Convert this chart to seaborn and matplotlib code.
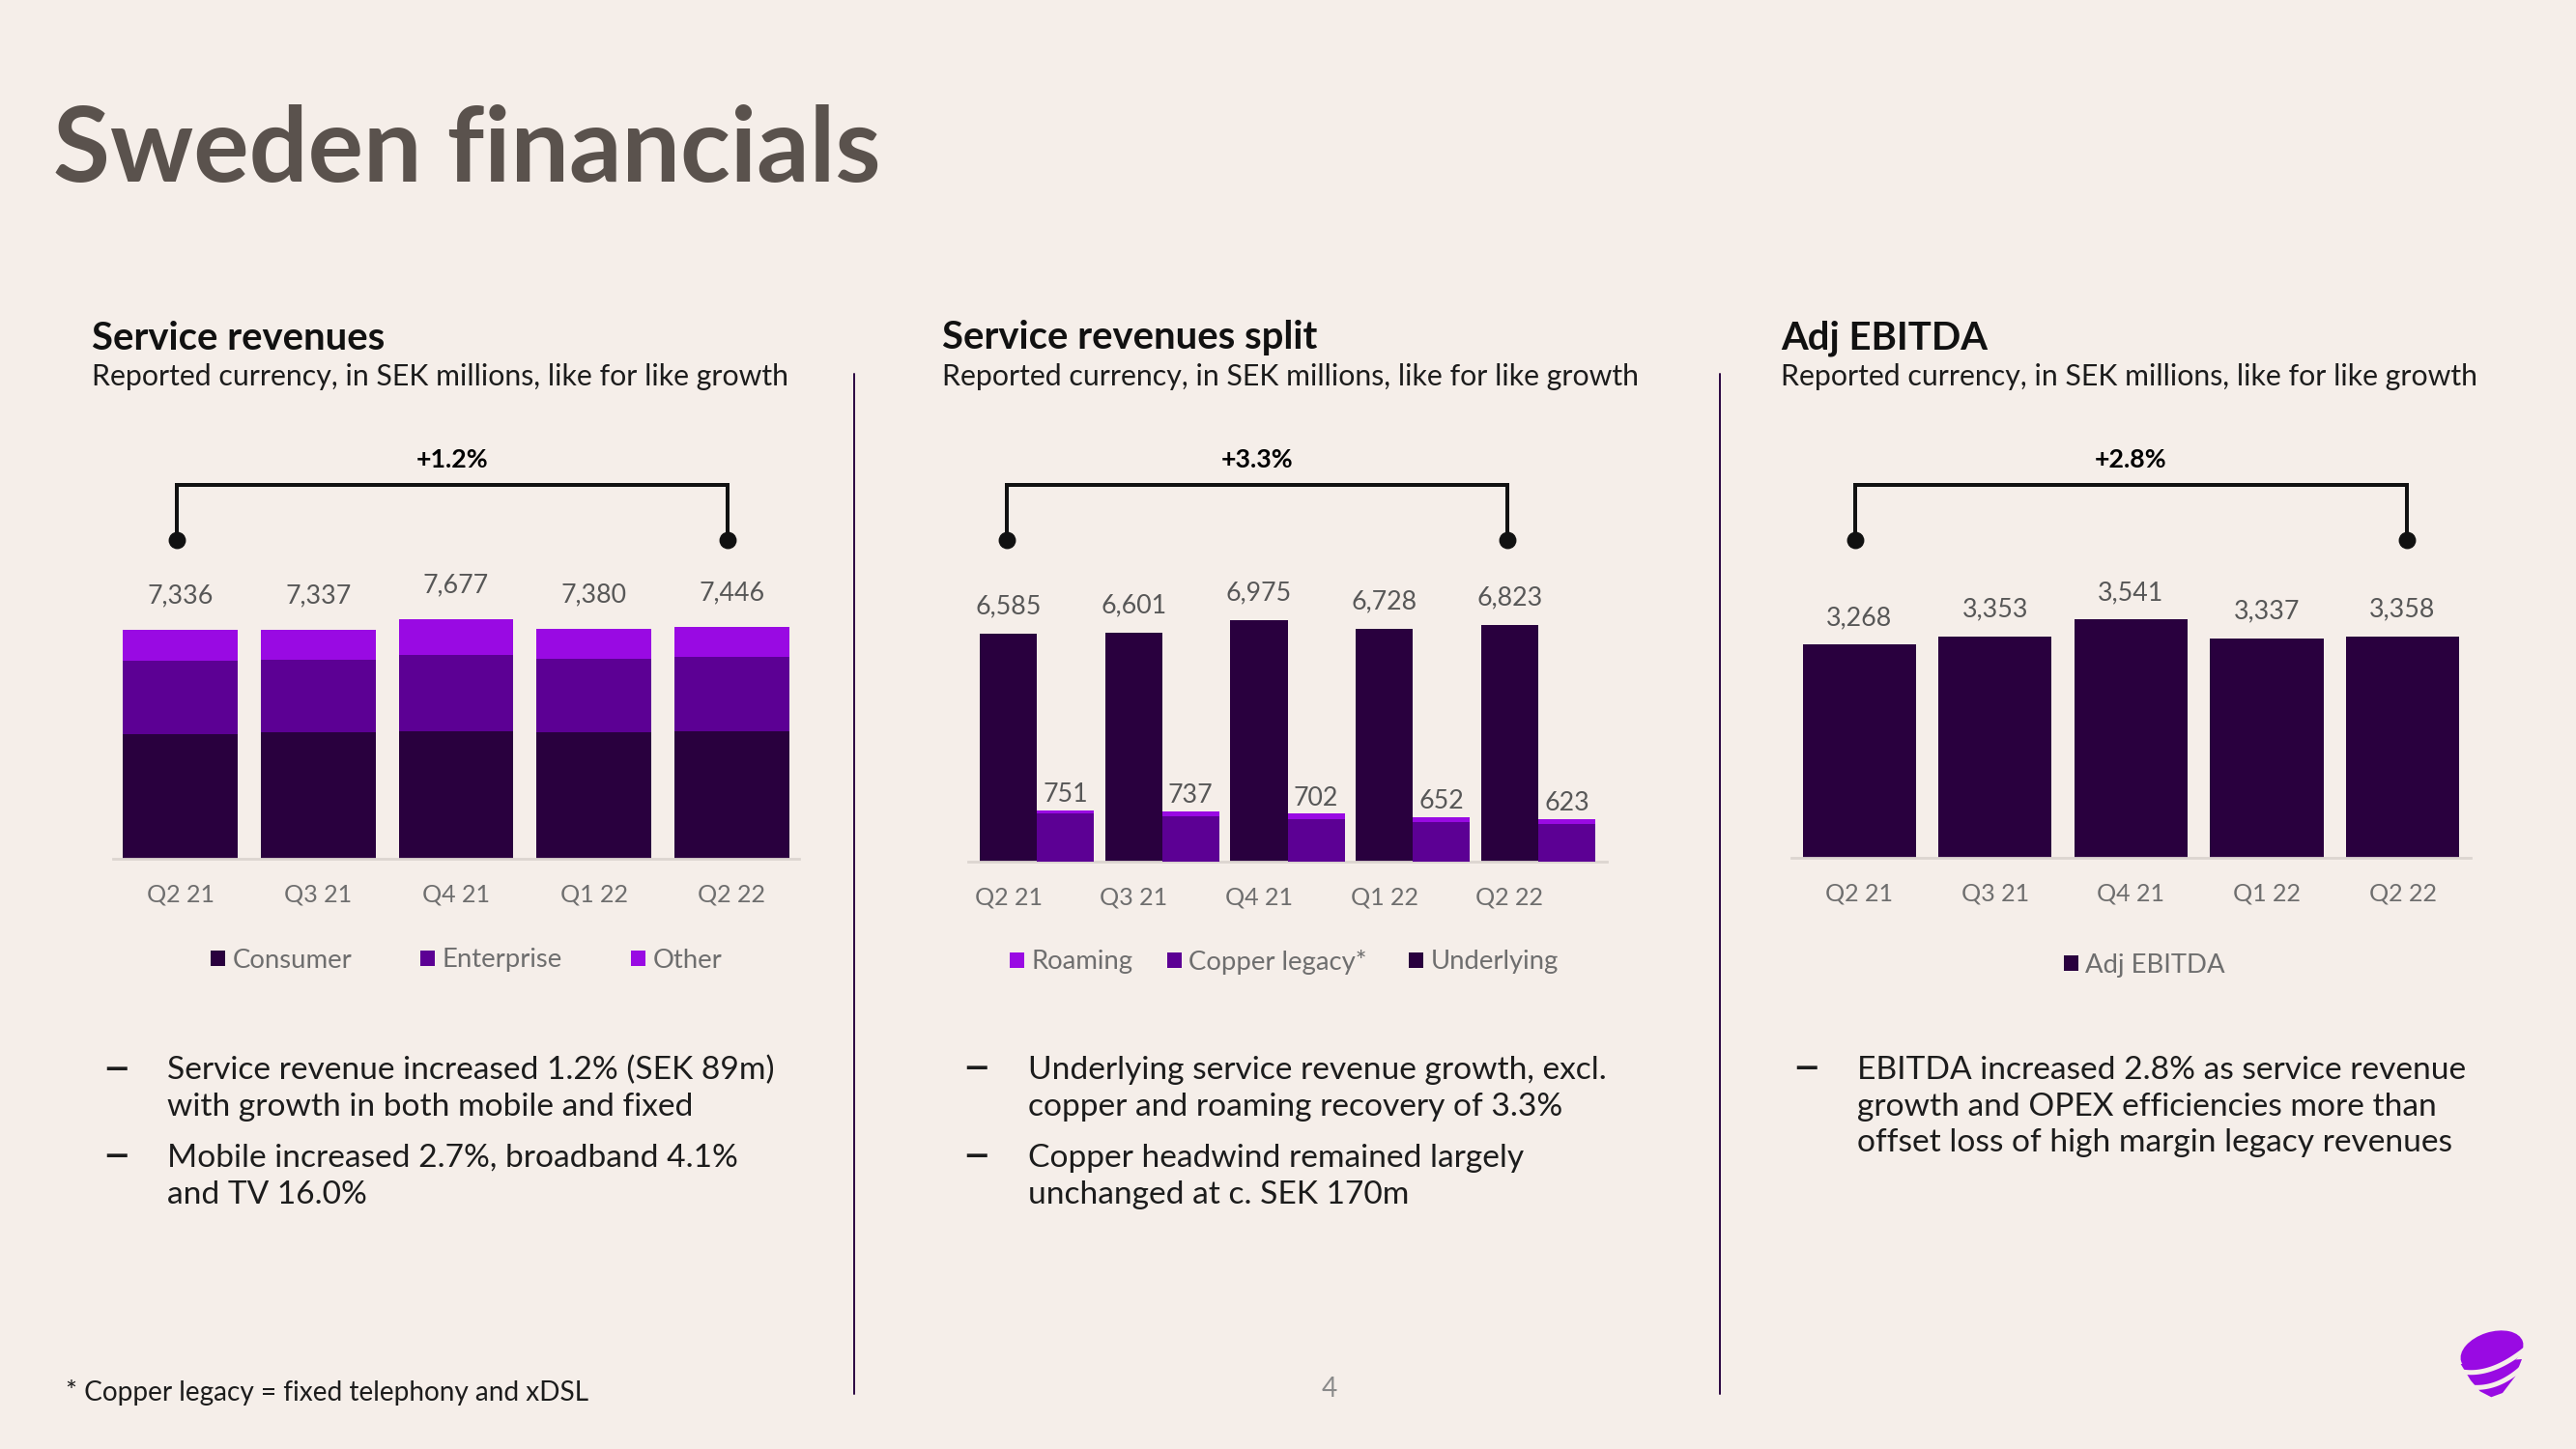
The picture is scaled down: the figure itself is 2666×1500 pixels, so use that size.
import numpy as np
import pandas as pd
import matplotlib
matplotlib.use("Agg")
import matplotlib.pyplot as plt
import matplotlib.transforms as mtransforms
from matplotlib.patches import Patch, Ellipse, Polygon
from matplotlib.textpath import TextPath
from matplotlib.font_manager import FontProperties
import seaborn as sns

# ------------------------------------------------------------------ data
quarters = ["Q2 21", "Q3 21", "Q4 21", "Q1 22", "Q2 22"]

sr_consumer = [3990, 4066, 4089, 4066, 4089]
sr_enterprise = [2371, 2316, 2460, 2350, 2383]
sr_other = [975, 955, 1128, 964, 974]

split_underlying = [6585, 6601, 6975, 6728, 6823]
split_copper = [706, 666, 626, 576, 547]
split_roaming = [45, 71, 76, 76, 76]

adj_ebitda = [3268, 3353, 3541, 3337, 3358]

growth_labels = ["+1.2%", "+3.3%", "+2.8%"]

legend1 = ["Consumer", "Enterprise", "Other"]
legend2 = ["Roaming", "Copper legacy*", "Underlying"]
legend3 = ["Adj EBITDA"]

headers = ["Service revenues", "Service revenues split", "Adj EBITDA"]
subheader = "Reported currency, in SEK millions, like for like growth"

bullets1 = [["Service revenue increased 1.2% (SEK 89m)", "with growth in both mobile and fixed"],
            ["Mobile increased 2.7%, broadband 4.1%", "and TV 16.0%"]]
bullets2 = [["Underlying service revenue growth, excl.", "copper and roaming recovery of 3.3%"],
            ["Copper headwind remained largely", "unchanged at c. SEK 170m"]]
bullets3 = [["EBITDA increased 2.8% as service revenue",
             "growth and OPEX efficiencies more than",
             "offset loss of high margin legacy revenues"]]

footnote = "* Copper legacy = fixed telephony and xDSL"
page_no = "4"
title = "Sweden financials"

# ------------------------------------------------------------------ style
BG = "#F5EEE9"
DEEP = "#29003E"
ENT = "#5C0094"
CORE = "#990AE3"
TITLE_C = "#5A524D"
VAL_C = "#575757"
TICK_C = "#6E6E6E"
TXT_C = "#1C1C1C"
AXIS_C = "#DCD5D0"
DIV_C = "#2E0A45"

sns.set_style("white")
plt.rcParams["font.family"] = ["Lato", "DejaVu Sans"]
FONT = ["Lato", "DejaVu Sans"]

W, H, DPI = 2666, 1500, 100
fig = plt.figure(figsize=(W / DPI, H / DPI), dpi=DPI)
fig.patch.set_facecolor(BG)
renderer = fig.canvas.get_renderer()
PT = 72.0 / DPI  # points per pixel


def fx(x):
    return x / W


def fy(y):
    return 1 - y / H


def add_ax(left, right, top, bottom):
    ax = fig.add_axes([fx(left), fy(bottom), (right - left) / W, (bottom - top) / H])
    ax.set_facecolor("none")
    return ax


def fit_size(s, target_w, weight="normal", base=20.0):
    t = fig.text(0, 0, s, fontsize=base, fontweight=weight, family=FONT)
    w = t.get_window_extent(renderer).width
    t.remove()
    return base * target_w / w


FS_TITLE = fit_size(title, 857, "bold")
FS_HEAD = fit_size(headers[0], 303, "bold")
FS_SUB = fit_size(subheader, 722)
FS_BUL = fit_size(bullets1[0][0], 628)
FS_VAL = fit_size("7,336", 68)
FS_TICK = fit_size("Q2 21", 70)
FS_LEG = fit_size("Consumer", 124)
FS_GROW = fit_size("+1.2%", 75, "bold")
FS_FOOT = fit_size(footnote, 543)

# dash glyph: fit its ink to ~21 px wide
DASH = "\u2013"
_tp = TextPath((0, 0), DASH, size=100, prop=FontProperties(family="Lato"))
_ext = _tp.get_extents()
DASH_PX = 100 * 21.0 / _ext.width
DASH_X0 = _ext.x0 * DASH_PX / 100
DASH_YC = (_ext.y0 + _ext.y1) / 2 * DASH_PX / 100


def ftext(x, y, s, **kw):
    kw.setdefault("va", "baseline")
    kw.setdefault("family", FONT)
    return fig.text(fx(x), fy(y), s, **kw)


def style_axis(ax):
    sns.despine(ax=ax, left=True, top=True, right=True)
    ax.spines["bottom"].set_color(AXIS_C)
    ax.spines["bottom"].set_linewidth(2.0)
    ax.set_yticks([])
    ax.set_ylabel("")
    ax.set_xlabel("")
    ax.tick_params(axis="x", length=0, pad=37 * PT, labelsize=FS_TICK, labelcolor=TICK_C)
    for lbl in ax.get_xticklabels():
        lbl.set_va("center")


def bracket(ax, x0, x1, bottom_px, height_px, label):
    trans = mtransforms.blended_transform_factory(ax.transData, ax.transAxes)
    yh = (bottom_px - 502) / height_px
    yd = (bottom_px - 559) / height_px
    yl = (bottom_px - 476) / height_px
    ax.plot([x0, x0, x1, x1], [yd, yh, yh, yd], transform=trans, color="#111111",
            lw=4 * PT, clip_on=False, solid_joinstyle="miter")
    ax.plot([x0, x1], [yd, yd], "o", ms=16.5 * PT, color="#111111", transform=trans, clip_on=False)
    ax.text((x0 + x1) / 2, yl, label, transform=trans, ha="center", va="center",
            fontsize=FS_GROW, fontweight="bold", color="black")


LEG_FS_PX = FS_LEG / PT


def legend_item(label, color, x_px, y_px):
    hl = 14.5 / LEG_FS_PX
    fig.legend(handles=[Patch(facecolor=color, edgecolor="none", label=label)],
               loc="center left", bbox_to_anchor=(fx(x_px), fy(y_px)), frameon=False,
               fontsize=FS_LEG, handlelength=hl, handleheight=hl,
               handletextpad=8.0 / LEG_FS_PX,
               borderpad=0, borderaxespad=0, labelcolor=TICK_C)


AX_H = 420.0

# ------------------------------------------------------------------ chart 1: stacked service revenues
df1 = pd.DataFrame({"quarter": quarters, "consumer": sr_consumer,
                    "enterprise": sr_enterprise, "other": sr_other})
df1["ce"] = df1["consumer"] + df1["enterprise"]
df1["total"] = df1["ce"] + df1["other"]

b1 = 888.6
ax1 = add_ax(117, 827, b1 - AX_H, b1)
for col, c in [("total", CORE), ("ce", ENT), ("consumer", DEEP)]:
    sns.barplot(data=df1, x="quarter", y=col, color=c, saturation=1, width=0.832,
                linewidth=0, ax=ax1, errorbar=None)
ax1.set_xlim(-0.487, 4.487)
ax1.set_ylim(0, AX_H / 0.032225)
style_axis(ax1)
for i, v in enumerate(df1["total"]):
    ax1.annotate(f"{v:,}", (i, v), xytext=(0, 35 * PT), textcoords="offset points",
                 ha="center", va="center", fontsize=FS_VAL, color=VAL_C)
bracket(ax1, -0.025, 3.97, b1, AX_H, growth_labels[0])

# ------------------------------------------------------------------ chart 2: split
df2 = pd.DataFrame({"quarter": quarters, "underlying": split_underlying,
                    "copper": split_copper, "roaming": split_roaming})
df2["legacy_total"] = df2["copper"] + df2["roaming"]
off = 0.2275
df2["pos_u"] = np.arange(len(quarters)) - off
df2["pos_l"] = np.arange(len(quarters)) + off

b2 = 892.0
ax2 = add_ax(1002, 1663, b2 - AX_H, b2)
ax2b = ax2.twinx()
sns.barplot(data=df2, x="pos_u", y="underlying", native_scale=True, color=DEEP, saturation=1,
            width=0.455, linewidth=0, ax=ax2, errorbar=None)
sns.barplot(data=df2, x="pos_l", y="legacy_total", native_scale=True, color=CORE, saturation=1,
            width=0.455, linewidth=0, ax=ax2b, errorbar=None)
sns.barplot(data=df2, x="pos_l", y="copper", native_scale=True, color=ENT, saturation=1,
            width=0.455, linewidth=0, ax=ax2b, errorbar=None)
ax2.set_ylim(0, AX_H / 0.03588)
ax2b.set_ylim(0, AX_H / 0.0707)
ax2.set_xlim(-0.548, 4.548)
ax2b.set_xlim(-0.548, 4.548)
ax2.set_xticks(df2["pos_u"])
ax2.set_xticklabels(quarters)
style_axis(ax2)
sns.despine(ax=ax2b, left=True, top=True, right=True, bottom=True)
ax2b.set_yticks([])
ax2b.set_ylabel("")
for i, r in df2.iterrows():
    ax2.annotate(f"{r['underlying']:,}", (r["pos_u"], r["underlying"]), xytext=(0, 28 * PT),
                 textcoords="offset points", ha="center", va="center", fontsize=FS_VAL, color=VAL_C)
    ax2b.annotate(f"{r['legacy_total']:,}", (r["pos_l"], r["legacy_total"]), xytext=(0, 16 * PT),
                  textcoords="offset points", ha="center", va="center", fontsize=FS_VAL, color=VAL_C)
bracket(ax2, df2["pos_u"].iloc[0] - 0.01, df2["pos_u"].iloc[-1] - 0.02, b2, AX_H, growth_labels[1])

# ------------------------------------------------------------------ chart 3: adj EBITDA
df3 = pd.DataFrame({"quarter": quarters, "ebitda": adj_ebitda})
b3 = 887.5
ax3 = add_ax(1854, 2556.8, b3 - AX_H, b3)
sns.barplot(data=df3, x="quarter", y="ebitda", color=DEEP, saturation=1, width=0.834,
            linewidth=0, ax=ax3, errorbar=None)
ax3.set_xlim(-0.5, 4.5)
ax3.set_ylim(966, 966 + AX_H / 0.0956)
style_axis(ax3)
for i, v in enumerate(df3["ebitda"]):
    ax3.annotate(f"{v:,}", (i, v), xytext=(0, 28 * PT), textcoords="offset points",
                 ha="center", va="center", fontsize=FS_VAL, color=VAL_C)
bracket(ax3, -0.03, 4.03, b3, AX_H, growth_labels[2])

# ------------------------------------------------------------------ legends
for lab, c, x in zip(legend1, [DEEP, ENT, CORE], [218, 435, 653]):
    legend_item(lab, c, x, 994)
for lab, c, x in zip(legend2, [CORE, ENT, DEEP], [1045, 1208, 1458]):
    legend_item(lab, c, x, 996)
for lab, c, x in zip(legend3, [DEEP], [2136]):
    legend_item(lab, c, x, 999)

# ------------------------------------------------------------------ texts
ftext(55, 188, title, fontsize=FS_TITLE, fontweight="bold", color=TITLE_C)
for x, h in zip([95, 975, 1843], headers):
    ftext(x, 361.5, h, fontsize=FS_HEAD, fontweight="bold", color="#111111")
    ftext(x, 399.5, subheader, fontsize=FS_SUB, color=TXT_C)


def bullets(dash_x, text_x, blocks, baselines):
    k = 0
    for block in blocks:
        for j, line in enumerate(block):
            if j == 0:
                ftext(dash_x - DASH_X0, baselines[k] - 11 + DASH_YC, DASH,
                      fontsize=DASH_PX * PT, color=TXT_C, family=["Lato"])
            ftext(text_x, baselines[k], line, fontsize=FS_BUL, color=TXT_C)
            k += 1


bullets(110, 173.5, bullets1, [1117.5, 1155, 1208, 1246])
bullets(1000, 1064, bullets2, [1117, 1155, 1208, 1246.5])
bullets(1859, 1922.5, bullets3, [1117, 1155, 1192])

ftext(68.5, 1450, footnote, fontsize=FS_FOOT, color=TXT_C)
ftext(1368, 1446, page_no, fontsize=FS_FOOT, color="#8A8A8A")

# dividers
for x in [884, 1780]:
    fig.add_artist(plt.Line2D([fx(x), fx(x)], [fy(387), fy(1443)], color=DIV_C, lw=2 * PT,
                              transform=fig.transFigure))

# ------------------------------------------------------------------ logo
axl = add_ax(2545, 2613, 1375, 1447)
axl.set_xlim(0, 68)
axl.set_ylim(0, 72)
axl.axis("off")
axl.add_patch(Polygon([(1.7, 35), (12, 18), (21.7, 6.7), (33.3, 0.7), (45, 5), (58, 22), (65, 40)],
                      closed=True, facecolor=CORE, edgecolor="none"))
axl.add_patch(Ellipse((34, 48), 67, 40, angle=18, facecolor=CORE, edgecolor="none"))
t = np.linspace(0, 1, 50)
for (p0, p1, p2) in [((3, 27), (33, 22), (68, 50)), ((12, 11), (40, 8), (66, 32))]:
    xs = (1 - t) ** 2 * p0[0] + 2 * (1 - t) * t * p1[0] + t ** 2 * p2[0]
    ys = (1 - t) ** 2 * p0[1] + 2 * (1 - t) * t * p1[1] + t ** 2 * p2[1]
    axl.plot(xs, ys, color=BG, lw=5 * PT, solid_capstyle="butt")

fig.savefig("out.png", dpi=DPI, facecolor=BG)
